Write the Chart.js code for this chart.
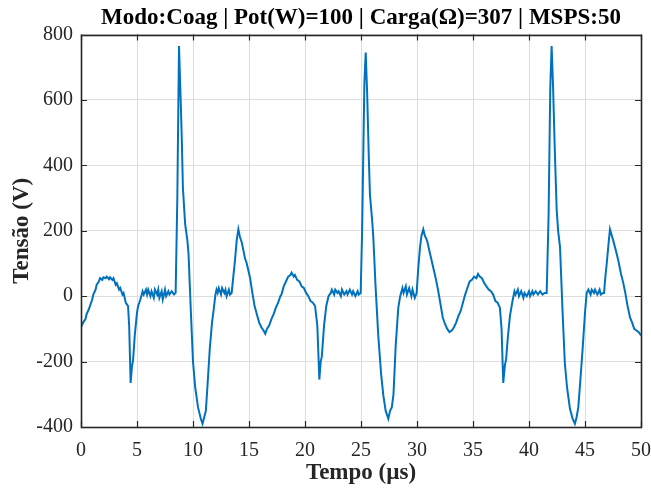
<!DOCTYPE html>
<html>
<head>
<meta charset="utf-8">
<script src="https://cdn.jsdelivr.net/npm/chart.js@4.4.0/dist/chart.umd.min.js"></script>
<style>
  body { margin: 0; background: #fff; }
  #wrap { width: 651px; height: 490px; }
</style>
</head>
<body>
<div id="wrap"><canvas id="myChart" width="651" height="490"></canvas></div>
<script>
'use strict'

var titleText = 'Modo:Coag | Pot(W)=100 | Carga(\u03A9)=307 | MSPS:50';
var xTitle = 'Tempo (\u00B5s)';
var yTitle = 'Tens\u00E3o (V)';
var xTicks = [0, 5, 10, 15, 20, 25, 30, 35, 40, 45, 50];
var yTicks = [-400, -200, 0, 200, 400, 600, 800];

// tempo em microssegundos
var timeUs = [
  0, 0.2, 0.4, 0.5, 0.7, 0.8, 1.0, 1.1, 1.3, 1.4, 1.6, 1.7, 1.9, 2.0, 2.2, 2.3, 2.5, 2.6, 2.8, 2.9,
  3.1, 3.2, 3.4, 3.5, 3.7, 3.8, 4.0, 4.1, 4.2, 4.3, 4.43, 4.55, 4.65, 4.8, 5.0, 5.1, 5.3, 5.5, 5.6, 5.8,
  5.9, 6.0, 6.2, 6.3, 6.5, 6.6, 6.8, 6.9, 7.0, 7.2, 7.3, 7.5, 7.6, 7.8, 7.9, 8.1, 8.3, 8.45, 8.6, 8.75,
  8.9, 9.0, 9.1, 9.3, 9.5, 9.6, 9.8, 10.0, 10.2, 10.45, 10.7, 10.85, 11.0, 11.15, 11.3, 11.5, 11.7, 11.85, 12.0, 12.1,
  12.2, 12.3, 12.5, 12.6, 12.8, 12.9, 13.0, 13.2, 13.3, 13.45, 13.6, 13.75, 13.9, 14.05, 14.2, 14.35, 14.5, 14.65, 14.8, 15.0,
  15.1, 15.3, 15.5, 15.7, 15.9, 16.1, 16.3, 16.45, 16.6, 16.8, 17.0, 17.2, 17.4, 17.6, 17.8,
  17.9, 18.1, 18.3, 18.5, 18.7, 18.8, 19.0, 19.1, 19.3, 19.5, 19.7, 19.9, 20.1, 20.3, 20.5, 20.7, 20.9, 21.1, 21.28, 21.4,
  21.5, 21.7, 21.9, 22.1, 22.3, 22.4, 22.6, 22.7, 22.9, 23.0, 23.2, 23.3, 23.5, 23.7, 23.8, 24.0, 24.2, 24.3, 24.5, 24.7,
  24.8, 24.97, 25.1, 25.3, 25.42, 25.55, 25.7, 25.8, 26.0, 26.1, 26.3, 26.55, 26.8, 27.0, 27.2, 27.44, 27.6, 27.75, 27.9, 28.1,
  28.33, 28.5, 28.7, 28.8, 29.0, 29.1, 29.3, 29.5, 29.6, 29.8, 29.97, 30.1, 30.27, 30.4, 30.56, 30.7, 30.9, 31.1, 31.3, 31.5,
  31.7, 31.9, 32.1, 32.3, 32.5, 32.7, 32.9, 33.1, 33.3, 33.5, 33.7, 33.9, 34.1, 34.3, 34.5, 34.7, 34.9, 35.1, 35.3, 35.45,
  35.6, 35.8, 36.0, 36.2, 36.4, 36.6, 36.8, 37.0, 37.2, 37.4, 37.55, 37.7, 37.85, 37.95, 38.1, 38.3, 38.5, 38.7, 38.8, 39.0,
  39.1, 39.3, 39.5, 39.6, 39.8, 40.0, 40.1, 40.3, 40.4, 40.6, 40.8, 41.0, 41.2, 41.4, 41.58, 41.75, 41.9, 42.02, 42.15, 42.3,
  42.47, 42.6, 42.77, 43.0, 43.2, 43.4, 43.66, 43.9, 44.1, 44.25, 44.4, 44.6, 44.8, 45.0, 45.15, 45.3, 45.5, 45.6, 45.8, 45.9,
  46.1, 46.3, 46.4, 46.6, 46.7, 46.82, 46.94, 47.1, 47.23, 47.4, 47.6, 47.83, 48.0, 48.2, 48.42, 48.6, 48.8, 49.02, 49.2, 49.4,
  49.6, 49.8, 50.0
];

// tensao em volts
var voltage = [
  -95, -80, -70, -55, -40, -30, -10, 5, 20, 35, 45, 55, 50, 58, 55, 60, 52, 58, 50, 55,
  35, 40, 20, 25, 5, 10, -20, -25, -30, -90, -265, -215, -195, -120, -50, -30, -10, 15, 5, 20,
  5, 20, 0, 15, -5, 20, 5, 20, -5, 15, -10, 20, 0, 15, 5, 15, 5, 10, 300, 765,
  600, 480, 330, 220, 170, 130, -40, -200, -280, -340, -375, -390, -370, -350, -270, -160, -80, -40, 5, 20,
  10, 25, 5, 25, 10, 20, 0, 20, 5, 10, 60, 110, 170, 205, 180, 165, 140, 115, 100, 70,
  55, 10, -30, -55, -80, -95, -105, -115, -100, -90, -70, -55, -35, -20, 0,
  5, 30, 45, 60, 65, 72, 60, 65, 50, 45, 30, 25, 10, 0, -15, -20, -30, -90, -255, -200,
  -185, -90, -30, 0, 10, 20, 5, 20, 10, 15, 0, 20, 5, 15, 5, 20, 5, 15, 0, 15,
  5, 10, 200, 650, 745, 620, 420, 310, 230, 180, 30, -125, -240, -305, -350, -375, -350, -340, -300, -150,
  -35, 0, 25, 10, 30, 5, 25, 0, 20, -5, 10, 80, 150, 185, 205, 185, 170, 140, 110, 80,
  50, 15, -25, -65, -85, -100, -110, -105, -95, -80, -60, -45, -20, 5, 25, 45, 50, 60, 55, 68,
  60, 55, 40, 30, 20, 15, 5, -15, -20, -35, -100, -265, -210, -195, -130, -60, -20, 15, 5, 20,
  0, 15, -5, 10, 0, 15, 0, 15, 5, 15, 5, 15, 5, 10, 10, 250, 640, 765, 640, 450,
  265, 200, 150, -50, -205, -280, -345, -375, -390, -370, -340, -250, -155, -50, 10, 20, 5, 20, 10, 20,
  5, 20, 5, 10, 10, 60, 100, 160, 205, 185, 160, 130, 105, 70, 40, 10, -30, -65, -80, -100,
  -105, -110, -120
];

var points = [];
for (let i = 0; i < timeUs.length; i++) {
  points.push({ x: timeUs[i], y: voltage[i] });
}

var axisColor = '#262626';
var serif = '"Liberation Serif", "Times New Roman", serif';

// caixa dos eixos e marcas de tick para dentro (estilo matlab)
var boxPlugin = {
  id: 'boxPlugin',
  afterDatasetsDraw(chart) {
    let ctx = chart.ctx;
    let a = chart.chartArea;
    let xs = chart.scales.x;
    let ys = chart.scales.y;
    let len = 6;
    ctx.save();
    ctx.strokeStyle = axisColor;
    ctx.lineWidth = 1.2;
    ctx.beginPath();
    for (let i = 0; i < xTicks.length; i++) {
      let px = Math.round(xs.getPixelForValue(xTicks[i])) + 0.5;
      ctx.moveTo(px, a.bottom);
      ctx.lineTo(px, a.bottom - len);
      ctx.moveTo(px, a.top);
      ctx.lineTo(px, a.top + len);
    }
    for (let i = 0; i < yTicks.length; i++) {
      let py = Math.round(ys.getPixelForValue(yTicks[i])) + 0.5;
      ctx.moveTo(a.left, py);
      ctx.lineTo(a.left + len, py);
      ctx.moveTo(a.right, py);
      ctx.lineTo(a.right - len, py);
    }
    ctx.stroke();
    ctx.lineWidth = 1.6;
    ctx.strokeRect(Math.round(a.left) + 0.5, Math.round(a.top) + 0.5,
      Math.round(a.right - a.left), Math.round(a.bottom - a.top));
    ctx.restore();
  }
};

let ctx = document.getElementById('myChart').getContext('2d');

// eslint-disable-next-line no-unused-vars
let chart = new Chart(ctx, {
  type: 'line',
  data: {
    datasets: [{
      data: points,
      borderColor: '#0072BD',
      borderWidth: 2,
      pointRadius: 0,
      tension: 0,
      fill: false
    }]
  },
  options: {
    responsive: false,
    animation: false,
    layout: { padding: { left: 0, right: 10, top: 0, bottom: 0 } },
    plugins: {
      legend: { display: false },
      tooltip: { enabled: false },
      title: {
        display: true,
        fullSize: false,
        text: titleText,
        color: '#000',
        font: { family: serif, size: 23, weight: 'bold' },
        padding: { top: 4, bottom: 3 }
      }
    },
    scales: {
      x: {
        type: 'linear',
        min: 0,
        max: 50,
        afterBuildTicks: function (scale) {
          scale.ticks = xTicks.map(function (v) { return { value: v }; });
        },
        afterFit: function (scale) {
          scale.height = 63;
          scale.paddingLeft = 0;
          scale.paddingRight = 0;
        },
        grid: { color: '#dedede', drawTicks: false },
        border: { display: false },
        ticks: {
          color: axisColor,
          padding: 12,
          maxRotation: 0,
          font: { family: serif, size: 20 }
        },
        title: {
          display: true,
          text: xTitle,
          color: '#262626',
          font: { family: serif, size: 23, weight: 'bold' },
          padding: { top: 0, bottom: 3 }
        }
      },
      y: {
        min: -400,
        max: 800,
        afterBuildTicks: function (scale) {
          scale.ticks = yTicks.map(function (v) { return { value: v }; });
        },
        afterFit: function (scale) {
          scale.width = 81;
          scale.paddingTop = 0;
          scale.paddingBottom = 0;
        },
        grid: { color: '#dedede', drawTicks: false },
        border: { display: false },
        ticks: {
          color: axisColor,
          padding: 8,
          font: { family: serif, size: 20 }
        },
        title: {
          display: true,
          text: yTitle,
          color: '#262626',
          font: { family: serif, size: 23, weight: 'bold' },
          padding: { top: 8, bottom: 0 }
        }
      }
    }
  },
  plugins: [boxPlugin]
});
</script>
</body>
</html>
